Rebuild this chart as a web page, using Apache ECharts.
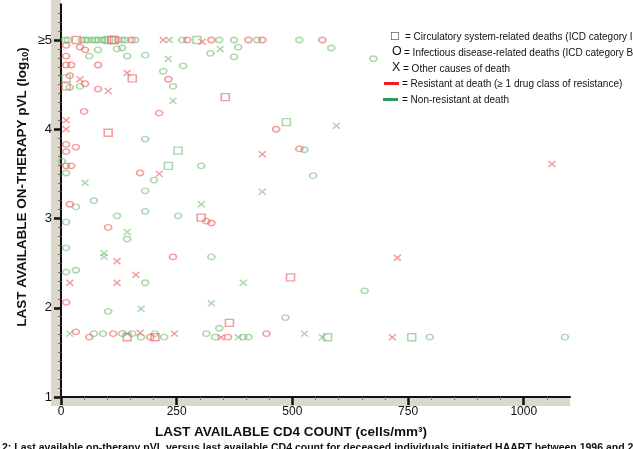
<!DOCTYPE html>
<html><head><meta charset="utf-8">
<script src="https://cdn.jsdelivr.net/npm/echarts@6/dist/echarts.min.js"></script>
<style>html,body{margin:0;padding:0;background:#fff}#c{width:633px;height:449px}</style>
</head><body><div id="c"></div>
<script>
// Data: [CD4 count, log10 pVL]
const resistantCircle = [[152,5],[273,5],[325,5],[405,5],[435,5],[565,5],[11,4.94],[41,4.92],[52,4.89],[11,4.82],[11,4.72],[22,4.72],[80,4.72],[19,4.60],[232,4.56],[52,4.51],[80,4.45],[50,4.20],[212,4.18],[11,3.83],[32,3.80],[11,3.75],[11,3.59],[22,3.59],[171,3.51],[19,3.16],[314,2.97],[325,2.95],[102,2.90],[242,2.57],[11,2.06],[465,4.00],[515,3.78],[32,1.73],[61,1.67],[113,1.71],[193,1.67],[361,1.67],[444,1.71]];
const resistantSquare = [[33,5],[110,5],[115,5],[154,4.57],[11,4.48],[355,4.36],[102,3.96],[303,3.01],[496,2.34],[364,1.83],[143,1.67],[203,1.67]];
const resistantCross = [[221,5],[305,4.98],[143,4.63],[41,4.56],[102,4.43],[11,4.10],[11,4.00],[212,3.50],[435,3.72],[121,2.52],[162,2.37],[19,2.28],[121,2.28],[727,2.56],[1061,3.61],[171,1.72],[245,1.71],[346,1.67],[716,1.67]];
const nonResCircle = [[9,5],[15,5],[45,5],[52,5],[58,5],[67,5],[74,5],[80,5],[89,5],[95,5],[123,5],[132,5],[139,5],[160,5],[262,5],[342,5],[374,5],[424,5],[515,5],[80,4.89],[121,4.90],[132,4.91],[383,4.92],[584,4.91],[323,4.85],[61,4.82],[143,4.82],[182,4.83],[374,4.81],[675,4.79],[264,4.71],[221,4.65],[19,4.47],[41,4.48],[242,4.48],[182,3.89],[2,3.64],[11,3.51],[303,3.59],[201,3.43],[182,3.31],[71,3.20],[32,3.13],[182,3.08],[121,3.03],[253,3.03],[11,2.96],[143,2.77],[11,2.67],[325,2.57],[11,2.40],[32,2.42],[182,2.28],[526,3.77],[545,3.48],[656,2.19],[102,1.96],[485,1.89],[342,1.77],[71,1.71],[91,1.71],[132,1.71],[154,1.71],[173,1.67],[203,1.71],[223,1.67],[314,1.71],[333,1.67],[394,1.67],[405,1.67],[797,1.67],[1089,1.67]];
const nonResSquare = [[102,5],[294,5],[11,4.57],[253,3.76],[232,3.59],[487,4.08],[758,1.67],[576,1.67]];
const nonResCross = [[234,5],[344,4.90],[232,4.79],[242,4.32],[52,3.40],[303,3.16],[143,2.85],[93,2.61],[93,2.57],[394,2.28],[595,4.04],[435,3.30],[173,1.99],[325,2.05],[19,1.71],[143,1.71],[383,1.67],[526,1.71],[565,1.67]];
const xTicks = [0,250,500,750,1000];
const yTicks = [1,2,3,4,5];
const legendLabels = ['= Circulatory system-related deaths (ICD category I','= Infectious disease-related deaths (ICD category B','= Other causes of death','= Resistant at death (\u2265 1 drug class of resistance)','= Non-resistant at death'];

const RED = 'rgba(238,100,100,0.8)';
const GREEN = 'rgba(115,188,115,0.75)';
const CROSS = 'path://M0,0L10,10M10,0L0,10';
function ser(data, color, symbol, size){
  return {type:'scatter', data, symbol, symbolSize:size, silent:true,
    itemStyle:{color: 'rgba(0,0,0,0)', borderColor:color, borderWidth:1.5}};
}
const chart = echarts.init(document.getElementById('c'), null, {renderer:'canvas'});
const F = 'Liberation Sans, Arial, sans-serif';
chart.setOption({
  animation:false,
  textStyle:{fontFamily:F},
  grid:{left:61, right:63, top:4.3, bottom:52, containLabel:false},
  xAxis:{type:'value', min:0, max:1100, interval:250,
    axisLine:{show:true, onZero:false, lineStyle:{color:'#111', width:2}},
    axisTick:{show:true, length:8, lineStyle:{color:'#111', width:2.5}, customValues:xTicks},
    minorTick:{show:true, splitNumber:5, length:3, lineStyle:{color:'#777', width:1}},
    axisLabel:{customValues:xTicks, color:'#111', fontSize:12, margin:9, fontFamily:F,
      formatter:v => String(v)},
    splitLine:{show:false}},
  yAxis:{type:'value', min:1, max:5.4, interval:1,
    axisLine:{show:true, onZero:false, lineStyle:{color:'#111', width:2}},
    axisTick:{show:true, length:7, lineStyle:{color:'#111', width:2.5}, customValues:yTicks},
    minorTick:{show:true, splitNumber:10, length:3, lineStyle:{color:'#666', width:1}},
    axisLabel:{customValues:yTicks, color:'#111', fontSize:13, margin:9, fontFamily:F,
      formatter:v => v===5 ? '\u22655' : String(v)},
    splitLine:{show:false}},
  graphic:[
    {type:'rect', z:-10, shape:{x:51, y:0, width:10, height:397}, style:{fill:'#dcd7cb'}},
    {type:'rect', z:-10, shape:{x:51, y:397, width:519, height:9}, style:{fill:'#dcd7cb'}},
    {type:'text', x:22, y:187, rotation:Math.PI/2, style:{
      text:'{a|LAST AVAILABLE ON-THERAPY pVL (log}{s|10}{a|)}', align:'center', verticalAlign:'middle',
      rich:{a:{fontSize:13.5, fontWeight:'bold', fontFamily:F, fill:'#111'}, s:{fontSize:9, fontWeight:'bold', fontFamily:F, fill:'#111', padding:[7,0,0,0]}}}},
    {type:'text', x:291, y:432, style:{text:'LAST AVAILABLE CD4 COUNT (cells/mm\u00b3)', align:'center', verticalAlign:'middle', font:'bold 13.5px '+F, fill:'#111'}},
    {type:'text', x:2, y:448, style:{text:'2: Last available on-therapy pVL versus last available CD4 count for deceased individuals initiated HAART between 1996 and 2007', align:'left', verticalAlign:'middle', font:'bold 10.5px '+F, fill:'#111'}},
    {type:'text', x:391, y:36, style:{text:'\u25a1', align:'left', verticalAlign:'middle', font:'13px '+F, fill:'#111'}},
    {type:'text', x:405, y:37, style:{text:legendLabels[0], align:'left', verticalAlign:'middle', font:'10px '+F, fill:'#111'}},
    {type:'text', x:392, y:52, style:{text:'O', align:'left', verticalAlign:'middle', font:'12.5px '+F, fill:'#111'}},
    {type:'text', x:404, y:53, style:{text:legendLabels[1], align:'left', verticalAlign:'middle', font:'10px '+F, fill:'#111'}},
    {type:'text', x:392, y:68, style:{text:'X', align:'left', verticalAlign:'middle', font:'12.5px '+F, fill:'#111'}},
    {type:'text', x:403, y:69, style:{text:legendLabels[2], align:'left', verticalAlign:'middle', font:'10px '+F, fill:'#111'}},
    {type:'rect', shape:{x:384, y:82, width:15, height:3}, style:{fill:'#ee1c24'}},
    {type:'text', x:402, y:84, style:{text:legendLabels[3], align:'left', verticalAlign:'middle', font:'10px '+F, fill:'#111'}},
    {type:'rect', shape:{x:383, y:98, width:15, height:3}, style:{fill:'#2e9a5e'}},
    {type:'text', x:402, y:100, style:{text:legendLabels[4], align:'left', verticalAlign:'middle', font:'10px '+F, fill:'#111'}}
  ],
  series:[
    ser(nonResCircle, GREEN, 'circle', [7,5.5]),
    ser(nonResSquare, GREEN, 'rect', [8,7]),
    ser(nonResCross, GREEN, CROSS, [7,6]),
    ser(resistantCircle, RED, 'circle', [7,5.5]),
    ser(resistantSquare, RED, 'rect', [8,7]),
    ser(resistantCross, RED, CROSS, [7,6])
  ]
});
</script></body></html>
